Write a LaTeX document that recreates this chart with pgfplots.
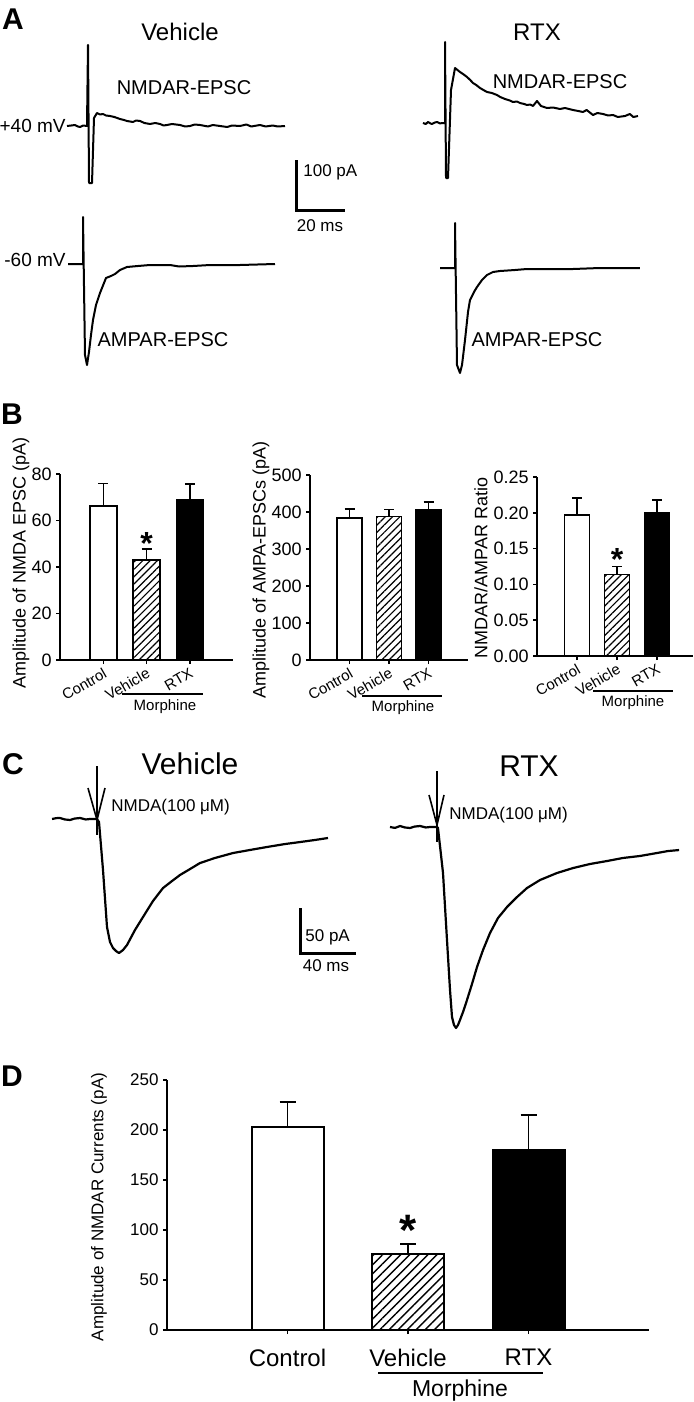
\documentclass[border=0pt]{standalone}
\usepackage{fontspec}
\setmainfont{Liberation Sans}
\usepackage{pgfplots}
\pgfplotsset{compat=1.18}
\usetikzlibrary{patterns.meta}

\pgfplotsset{
  barax/.style={
    scale only axis, anchor=origin, clip=false,
    axis x line*=bottom, axis y line*=left,
    axis line style={line width=0.75pt,-},
    every tick/.style={black, line width=0.75pt},
    tick align=outside, major tick length=2pt,
    xmin=0, xmax=4, ymin=0,
    xtick={1,2,3},
    scaled y ticks=false,
    /pgf/number format/assume math mode=true,
    ticklabel style={font=\fontsize{9}{10}\selectfont},
    xticklabels={Control,Vehicle,RTX},
    yticklabel style={inner sep=2pt},
  },
  brot/.style={xticklabel style={rotate=30, anchor=north east, font=\fontsize{7.5}{9}\selectfont, inner sep=1pt}},
  wbar/.style={ybar, bar shift=0pt, draw=black, line width=0.75pt, fill=white},
  hbar/.style={wbar, postaction={pattern={Lines[angle=45,distance=2.6pt,line width=0.6pt]}}},
  kbar/.style={ybar, bar shift=0pt, draw=black, line width=0.75pt, fill=black},
  errb/.style={draw=none, mark=none, forget plot,
     error bars/y dir=plus, error bars/y explicit,
     error bars/error bar style={draw=black, solid, line width=0.75pt},
     error bars/error mark options={draw=black, line width=0.75pt, mark size=#1, rotate=90}},
  errb/.default=2.5pt,
  trace/.style={hide axis, anchor=origin, clip=false, x=1.2pt, y=0.25pt},
  traceC/.style={hide axis, anchor=origin, clip=false, x=0.7pt, y=0.45pt},
  tr/.style={black, line width=1pt, line join=round, mark=none},
}

\begin{document}
\begin{tikzpicture}
\path[use as bounding box] (0,0) rectangle (346.5pt,-701pt);

% ---------------- Panel A traces (ms, pA) ----------------
\begin{axis}[trace, at={(44pt,-63pt)}]
\addplot[tr] coordinates {(-8.75,0) (-7,1) (-5.42,2) (-4.2,-1) (-3.33,-2) (-2,1) (-0.42,0) (0,162) (0.42,-114) (1.67,-114) (2.5,16) (3.75,26) (5,23) (6.25,24) (7.5,21) (9.17,20) (11,18) (13.33,14) (15,12) (16.25,10) (18.75,8) (20,11) (21.67,10) (23.5,6) (25.83,4) (28,6) (30,4) (31.5,1) (32.92,2) (35,4) (38.33,2) (40.5,-1) (42.5,0) (44.5,3) (46.67,2) (50,-1) (52,2) (55,0) (58,-2) (60,1) (63.33,0) (66,3) (68,-1) (71.67,2) (74,-1) (77,1) (79,-1) (82.08,0)};
% scale bar 20 ms / 100 pA
\addplot[black, line width=1.5pt, mark=none] coordinates {(87.08,-68) (87.08,-168) (107.08,-168)};
\end{axis}

\begin{axis}[trace, at={(222.5pt,-61.5pt)}]
\addplot[tr] coordinates {(-9.17,0) (-8,-2) (-7.08,2) (-6,-1) (-5.42,-2) (-4.2,1) (-3.33,2) (-2,-1) (-1.25,0) (0,0) (0,162) (0.42,-110) (1.25,-110) (2.5,66) (4.17,110) (6.25,102) (7.5,98) (9.17,92) (10.5,86) (11.67,80) (13,76) (14.58,70) (16,66) (17.5,62) (19.5,60) (21.67,56) (23,52) (25,48) (27,45) (28.33,42) (30,43) (31.25,40) (33,38) (34.17,36) (35.5,37) (36.67,34) (38.33,44) (40,34) (42.5,30) (45,31) (47.92,28) (50,30) (53.33,26) (55.5,24) (57.5,22) (59,26) (61.67,16) (63.5,20) (65.83,18) (68,15) (70,16) (72,12) (75,14) (77,18) (78.5,12) (80.42,14)};
\end{axis}

\begin{axis}[trace, at={(41.5pt,-132pt)}]
\addplot[tr] coordinates {(-6.25,0) (0,0) (0,94) (0.83,-182) (1.67,-202) (2.5,-176) (3.33,-142) (4.17,-112) (5.42,-82) (7.08,-58) (8.75,-38) (9.58,-28) (11.67,-24) (13.33,-20) (15.42,-12) (18.33,-6) (22.92,-4) (27.92,-2) (36.25,-2) (40,-5) (45.83,-4) (52.92,-2) (65.42,-2) (80,0)};
\end{axis}

\begin{axis}[trace, at={(227.5pt,-134pt)}]
\addplot[tr] coordinates {(-6.25,0) (0,0) (0,90) (0.83,-194) (2.08,-210) (2.92,-194) (4.17,-144) (5.42,-88) (6.25,-64) (7.92,-48) (9.17,-38) (11.25,-24) (13.33,-14) (15.83,-8) (18.75,-6) (25,-4) (30,-2) (39.58,-2) (49.17,-2) (60.42,0) (68.75,0) (77.08,0)};
\end{axis}

% ---------------- Panel B bar charts ----------------
\begin{axis}[barax, brot, at={(30pt,-330pt)}, width=86.5pt, height=93pt, ymax=80, ytick={0,20,40,60,80}]
\addplot[wbar, bar width=13.5pt] coordinates {(1,66.2)};
\addplot[hbar, bar width=13.5pt] coordinates {(2,43)};
\addplot[kbar, bar width=13.5pt] coordinates {(3,68.8)};
\addplot[errb] coordinates {(1,66.2) +- (0,9.8) (2,43) +- (0,4.7) (3,68.8) +- (0,6.9)};
\node[font=\bfseries\fontsize{16}{16}\selectfont] at (axis cs:2,50) {*};
\end{axis}

\begin{axis}[barax, brot, at={(155pt,-330pt)}, width=79pt, height=92.5pt, ymax=500, ytick={0,100,200,300,400,500}]
\addplot[wbar, bar width=12.5pt] coordinates {(1,384)};
\addplot[hbar, bar width=12.5pt] coordinates {(2,388)};
\addplot[kbar, bar width=12.5pt] coordinates {(3,405)};
\addplot[errb] coordinates {(1,384) +- (0,24) (2,388) +- (0,19) (3,405) +- (0,22)};
\end{axis}

\begin{axis}[barax, brot, at={(268.5pt,-328pt)}, width=78pt, height=89.5pt, xmax=3.9, ymax=0.25,
  ytick={0,0.05,0.1,0.15,0.2,0.25},
  yticklabel style={/pgf/number format/.cd, fixed, fixed zerofill, precision=2}]
\addplot[wbar, bar width=12.5pt] coordinates {(1,0.197)};
\addplot[hbar, bar width=12.5pt] coordinates {(2,0.114)};
\addplot[kbar, bar width=12.5pt] coordinates {(3,0.200)};
\addplot[errb] coordinates {(1,0.197) +- (0,0.024) (2,0.114) +- (0,0.011) (3,0.200) +- (0,0.018)};
\node[font=\bfseries\fontsize{16}{16}\selectfont] at (axis cs:2,0.135) {*};
\end{axis}

% ---------------- Panel C traces (ms, pA) ----------------
\begin{axis}[traceC, at={(48.5pt,-409.5pt)}]
\addplot[black, line width=1.1pt, line join=round, mark=none] coordinates {(-32.1,0) (-29,1) (-26.4,1.1) (-23,-0.5) (-19.3,-1.1) (-16,0.5) (-12.1,1.1) (-8,-0.5) (-5,0) (0,0) (1.43,-3.3) (4.29,-56.7) (7.14,-120) (9.29,-136.7) (11.43,-143.3) (13.57,-146.7) (15.71,-148.9) (18.57,-145.6) (21.43,-140) (27.14,-123.3) (32.86,-108.9) (40,-91.1) (47.14,-76.7) (53.57,-68.9) (59.29,-62.2) (66.43,-55.6) (73.57,-48.9) (84.29,-43.3) (97.14,-37.8) (109.3,-34.4) (121.4,-31.1) (134.3,-27.8) (145,-25.6) (155.7,-23.3) (165,-21.1)};
\draw[line width=0.8pt] (axis cs:0,58.9) -- (axis cs:0,-17.8);
\draw[line width=0.8pt] (axis cs:-6.43,34.4) -- (axis cs:0,-1.1) -- (axis cs:5.71,34.4);
% scale bar 40 ms / 50 pA
\addplot[black, line width=1.5pt, mark=none] coordinates {(145,-98.9) (145,-148.9) (185,-148.9)};
\end{axis}

\begin{axis}[traceC, at={(218.5pt,-413.5pt)}]
\addplot[black, line width=1.1pt, line join=round, mark=none] coordinates {(-33.6,0) (-30,-1) (-26.4,1.1) (-23,-0.5) (-19.3,-1.1) (-16,0.5) (-12.1,1.1) (-8,-0.5) (-5,0) (0,0) (0.71,-1.1) (4.29,-51.1) (7.14,-125.6) (9.29,-181.1) (10.71,-211.1) (12.14,-220) (13.57,-223.3) (15,-220) (16.43,-214.4) (18.57,-205.6) (21.43,-192.2) (25,-174.4) (28.57,-155.6) (32.86,-136.7) (37.86,-117.8) (43.57,-101.1) (50,-88.9) (57.14,-77.8) (64.29,-67.8) (73.57,-58.9) (85.71,-51.1) (97.14,-45.6) (109.3,-41.1) (121.4,-37.8) (132.9,-34.4) (145,-32.2) (157.1,-28.9) (165,-26.7) (172.9,-25.6)};
\draw[line width=0.8pt] (axis cs:0,62.2) -- (axis cs:0,-16.7);
\draw[line width=0.8pt] (axis cs:-5.71,35.6) -- (axis cs:0,2.2) -- (axis cs:5,35.6);
\end{axis}

% ---------------- Panel D ----------------
\begin{axis}[barax, at={(83.5pt,-665pt)}, width=241pt, height=125pt, ymax=250,
  ytick={0,50,100,150,200,250},
  ticklabel style={font=\fontsize{8.5}{10}\selectfont},
  xticklabel style={anchor=north, font=\fontsize{12}{14}\selectfont, yshift=-4pt}]
\addplot[ybar, bar shift=0pt, bar width=36pt, draw=black, line width=1pt, fill=white] coordinates {(1,203)};
\addplot[ybar, bar shift=0pt, bar width=36pt, draw=black, line width=1pt, fill=white,
  postaction={pattern={Lines[angle=45,distance=3.2pt,line width=0.7pt]}}] coordinates {(2,76)};
\addplot[ybar, bar shift=0pt, bar width=36pt, draw=black, line width=1pt, fill=black] coordinates {(3,180)};
\addplot[errb=4pt] coordinates {(1,203) +- (0,25) (2,76) +- (0,10) (3,180) +- (0,35)};
\node[font=\bfseries\fontsize{22}{22}\selectfont] at (axis cs:2,100) {*};
\end{axis}

% ---------------- Text and annotations (pixel coordinates) ----------------
\begin{scope}[x=0.5pt, y=-0.5pt]
\node[font=\bfseries\fontsize{15}{18}\selectfont] at (13,19) {A};
\node[font=\fontsize{12}{14}\selectfont] at (180,32) {Vehicle};
\node[font=\fontsize{12}{14}\selectfont] at (537,32) {RTX};
\node[font=\fontsize{10}{12}\selectfont] at (184,88) {NMDAR-EPSC};
\node[font=\fontsize{10}{12}\selectfont] at (560,82) {NMDAR-EPSC};
\node[font=\fontsize{9.5}{11}\selectfont, anchor=east, inner sep=0pt] at (66,126) {+40 mV};
\node[font=\fontsize{9.5}{11}\selectfont, anchor=east, inner sep=0pt] at (66,260) {-60 mV};
\node[font=\fontsize{10}{12}\selectfont] at (163,340) {AMPAR-EPSC};
\node[font=\fontsize{10}{12}\selectfont] at (537,340) {AMPAR-EPSC};
\node[font=\fontsize{8.5}{10}\selectfont, anchor=west, inner sep=0pt] at (303,172) {100 pA};
\node[font=\fontsize{8.5}{10}\selectfont] at (320,226) {20 ms};

\node[font=\bfseries\fontsize{15}{18}\selectfont] at (12,414) {B};
\node[rotate=90, font=\fontsize{9}{11}\selectfont] at (21,563) {Amplitude of NMDA EPSC (pA)};
\node[rotate=90, font=\fontsize{9}{11}\selectfont] at (261,570) {Amplitude of AMPA-EPSCs (pA)};
\node[rotate=90, font=\fontsize{9}{11}\selectfont] at (481,568) {NMDAR/AMPAR Ratio};
\draw[line width=0.75pt] (122,694) -- (203,694);
\draw[line width=0.75pt] (362,696) -- (442,696);
\draw[line width=0.75pt] (593,691) -- (673,691);
\node[font=\fontsize{7.5}{9}\selectfont] at (165,707) {Morphine};
\node[font=\fontsize{7.5}{9}\selectfont] at (403,708) {Morphine};
\node[font=\fontsize{7.5}{9}\selectfont] at (633,703) {Morphine};

\node[font=\bfseries\fontsize{15}{18}\selectfont] at (13,764) {C};
\node[font=\fontsize{15}{18}\selectfont] at (190,764) {Vehicle};
\node[font=\fontsize{15}{18}\selectfont] at (529,766) {RTX};
\node[font=\fontsize{8.5}{10}\selectfont, anchor=west, inner sep=0pt] at (111,807) {NMDA(100 μM)};
\node[font=\fontsize{8.5}{10}\selectfont, anchor=west, inner sep=0pt] at (449,815) {NMDA(100 μM)};
\node[font=\fontsize{8.5}{10}\selectfont, anchor=west, inner sep=0pt] at (305,937) {50 pA};
\node[font=\fontsize{8.5}{10}\selectfont] at (326,966) {40 ms};

\node[font=\bfseries\fontsize{15}{18}\selectfont] at (12,1076) {D};
\node[rotate=90, font=\fontsize{8.5}{10}\selectfont] at (99,1207) {Amplitude of NMDAR Currents (pA)};
\draw[line width=0.75pt] (378,1373) -- (543,1373);
\node[font=\fontsize{11.5}{13}\selectfont] at (460,1391) {Morphine};
\end{scope}
\end{tikzpicture}
\end{document}
